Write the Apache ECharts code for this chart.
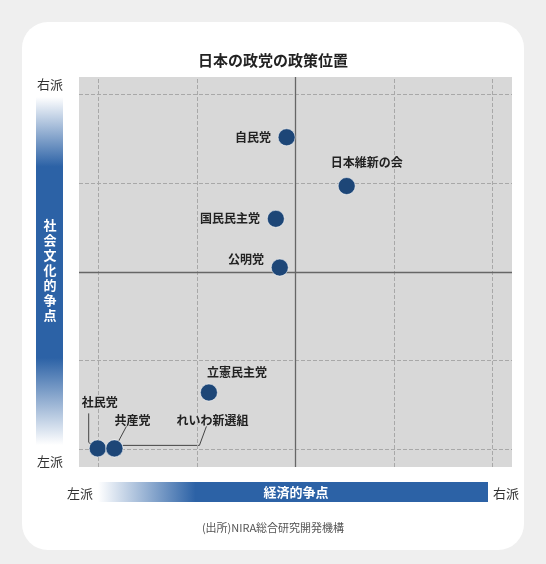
<!DOCTYPE html><html><head><meta charset="utf-8">
<script src="https://cdn.jsdelivr.net/npm/echarts@6/dist/echarts.min.js"></script>
<style>html,body{margin:0;background:#efefef}#c{width:546px;height:564px}</style></head><body><div id="c"></div>
<script>
const parties=['自民党','日本維新の会','国民民主党','公明党','立憲民主党','社民党','共産党','れいわ新選組'];
const econ=[-0.09,0.52,-0.2,-0.16,-0.88,-2.01,-1.84,-1.84];
const social=[1.52,0.97,0.6,0.05,-1.36,-1.99,-1.99,-1.99];
const gridVals=[-2,-1,1,2];
const F='"Noto Sans CJK JP",sans-serif';
const labelPos={'自民党':['left',[-2,0]],'日本維新の会':['top',[20,-4]],'国民民主党':['left',[-2,0]],'公明党':['left',[-2,-8]],'立憲民主党':['top',[28,0]],'社民党':['top',[2,-26]],'共産党':['top',[18,-8]],'れいわ新選組':['top',[98,-8]]};
const chart=echarts.init(document.getElementById('c'));
const dashed={lineStyle:{color:'#a8a8a8',type:'dashed',width:1}};
chart.setOption({
 backgroundColor:'#efefef',animation:false,
 grid:{left:79,right:34,top:77,bottom:97,backgroundColor:'#d8d8d8',show:true,borderWidth:0},
 xAxis:{type:'value',min:-2.2,max:2.2,show:false,splitLine:{show:false}},
 yAxis:{type:'value',min:-2.2,max:2.2,show:false,splitLine:{show:false}},
 graphic:[
  {id:'card',type:'rect',shape:{x:22,y:22,width:502,height:528,r:26},style:{fill:'#fff',stroke:null},z:-10},
  {id:'title',type:'text',x:273,y:60,style:{text:'日本の政党の政策位置',font:'bold 15px '+F,fill:'#222',align:'center',verticalAlign:'middle'}},
  {id:'vbar',type:'rect',shape:{x:36,y:97,width:27,height:348},style:{stroke:null,fill:new echarts.graphic.LinearGradient(0,0,0,1,[{offset:0,color:'#ffffff'},{offset:0.2,color:'#2c62a6'},{offset:0.75,color:'#2c62a6'},{offset:1,color:'#ffffff'}])}},
  {id:'vt',type:'text',x:50,y:270,style:{text:'社\n会\n文\n化\n的\n争\n点',font:'bold 13px '+F,fill:'#fff',align:'center',verticalAlign:'middle',lineHeight:15}},
  {id:'r1',type:'text',x:50,y:84,style:{text:'右派',font:'13px '+F,fill:'#333',align:'center',verticalAlign:'middle'}},
  {id:'l1',type:'text',x:50,y:461,style:{text:'左派',font:'13px '+F,fill:'#333',align:'center',verticalAlign:'middle'}},
  {id:'hbar',type:'rect',shape:{x:98,y:482,width:390,height:20},style:{stroke:null,fill:new echarts.graphic.LinearGradient(0,0,1,0,[{offset:0,color:'#ffffff'},{offset:0.25,color:'#2c62a6'},{offset:1,color:'#2c62a6'}])}},
  {id:'ht',type:'text',x:296,y:492,style:{text:'経済的争点',font:'bold 13px '+F,fill:'#fff',align:'center',verticalAlign:'middle'}},
  {id:'l2',type:'text',x:80,y:493,style:{text:'左派',font:'13px '+F,fill:'#333',align:'center',verticalAlign:'middle'}},
  {id:'r2',type:'text',x:506,y:493,style:{text:'右派',font:'13px '+F,fill:'#333',align:'center',verticalAlign:'middle'}},
  {id:'src',type:'text',x:273,y:528,style:{text:'(出所)NIRA総合研究開発機構',font:'11px '+F,fill:'#555',align:'center',verticalAlign:'middle'}}
 ],
 series:[
  {type:'scatter',silent:true,symbolSize:0,data:[],
   markLine:{symbol:'none',silent:true,label:{show:false},data:[
    ...gridVals.map(v=>({xAxis:v,...dashed})),...gridVals.map(v=>({yAxis:v,...dashed})),
    {xAxis:0,lineStyle:{color:'#666',type:'solid',width:1.3}},{yAxis:0,lineStyle:{color:'#666',type:'solid',width:1.3}}]}},
  {type:'scatter',symbolSize:17,z:5,itemStyle:{color:'#1d4677',opacity:1,borderColor:'#fff',borderWidth:0.5},
   data:parties.map((p,i)=>({value:[econ[i],social[i]],name:p,label:{show:true,position:labelPos[p][0],offset:labelPos[p][1],formatter:p,fontFamily:F,fontSize:12,fontWeight:'bold',color:'#222'}}))}
 ]
});
function px(i){return chart.convertToPixel({gridIndex:0},[econ[i],social[i]]);}
const a=px(5),b=px(6),c=px(7);
chart.setOption({graphic:[
 {id:'ln1',type:'polyline',shape:{points:[[a[0]-9,a[1]-35],[a[0]-9,a[1]-6],[a[0]-4,a[1]-2]]},style:{stroke:'#444',lineWidth:1,fill:null},z:1},
 {id:'ln2',type:'polyline',shape:{points:[[b[0]+12,b[1]-22],[b[0]+4,b[1]-7]]},style:{stroke:'#444',lineWidth:1,fill:null},z:1},
 {id:'ln3',type:'polyline',shape:{points:[[c[0]+92,c[1]-22],[c[0]+85,c[1]-3],[c[0]+8,c[1]-3]]},style:{stroke:'#444',lineWidth:1,fill:null},z:1}
]});
</script></body></html>
